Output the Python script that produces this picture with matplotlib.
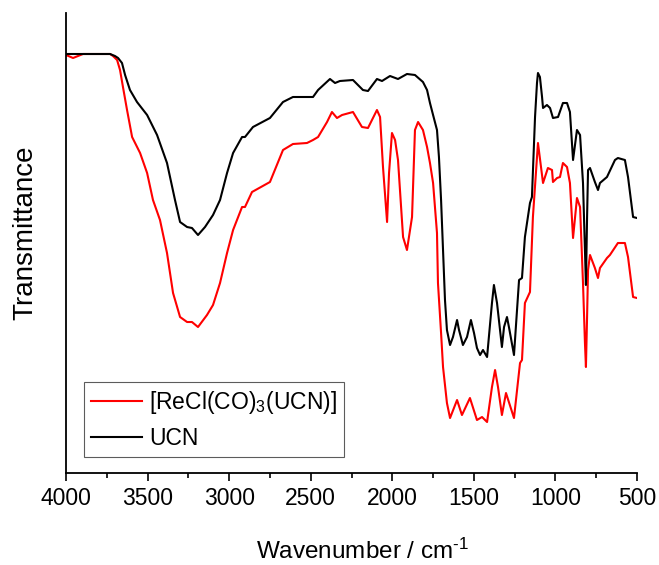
import matplotlib
matplotlib.use("Agg")
import matplotlib.pyplot as plt
from matplotlib.ticker import MultipleLocator

plt.rcParams["font.family"] = ["Liberation Sans", "DejaVu Sans"]
plt.rcParams["mathtext.fontset"] = "custom"
plt.rcParams["mathtext.rm"] = "Liberation Sans"
plt.rcParams["mathtext.it"] = "Liberation Sans"

# FTIR spectra, wavenumber (cm-1) vs transmittance (arbitrary units)
ucn_wn = [4000, 3730, 3700, 3681, 3657, 3638, 3608, 3565, 3503, 3442, 3381,
          3332, 3301, 3258, 3228, 3191, 3148, 3099, 3056, 3013, 2976, 2921,
          2903, 2854, 2750, 2670, 2609, 2486, 2455, 2382, 2351, 2321, 2241,
          2180, 2149, 2094, 2063, 2014, 1965, 1910, 1861, 1812, 1787, 1769,
          1750, 1726, 1714, 1701, 1689, 1677, 1665, 1646, 1628, 1603, 1591,
          1567, 1542, 1518, 1499, 1481, 1462, 1444, 1419, 1389, 1377, 1358,
          1328, 1315, 1297, 1285, 1254, 1223, 1205, 1187, 1156, 1144, 1125,
          1113, 1107, 1095, 1082, 1076, 1052, 1033, 1015, 984, 954, 929, 911,
          892, 868, 849, 831, 819, 813, 806, 800, 788, 758, 739, 727, 684,
          635, 617, 574, 555, 524, 500]
ucn_t = [419, 419, 417, 415, 410, 398, 383, 371, 358, 338, 310,
         273, 251, 246, 245, 238, 246, 258, 273, 300, 320, 336,
         336, 346, 355, 371, 376, 376, 383, 394, 390, 392, 393,
         383, 382, 394, 392, 397, 394, 399, 398, 391, 383, 370,
         358, 343, 316, 273, 223, 173, 143, 128, 136, 153, 143,
         128, 136, 153, 140, 125, 118, 123, 116, 170, 188, 170,
         126, 146, 156, 146, 118, 193, 195, 236, 270, 276, 356,
         390, 400, 396, 376, 365, 368, 365, 355, 356, 370, 370, 361,
         313, 343, 338, 290, 223, 188, 256, 303, 305, 291, 283, 290, 296,
         313, 315, 313, 296, 256, 255]

re_wn = [4000, 3957, 3896, 3730, 3712, 3687, 3669, 3651, 3626, 3595, 3546,
         3503, 3467, 3424, 3381, 3344, 3301, 3258, 3228, 3191, 3136, 3099,
         3056, 3013, 2976, 2921, 2903, 2860, 2750, 2670, 2609, 2523, 2486,
         2455, 2400, 2370, 2339, 2308, 2241, 2186, 2149, 2094, 2075, 2057,
         2032, 2020, 2002, 1983, 1965, 1934, 1910, 1879, 1861, 1842, 1812,
         1787, 1769, 1750, 1726, 1720, 1701, 1689, 1665, 1646, 1603, 1573,
         1524, 1481, 1450, 1419, 1389, 1370, 1352, 1328, 1303, 1254, 1217,
         1205, 1187, 1156, 1138, 1107, 1076, 1046, 1021, 1015, 990, 972, 954,
         929, 911, 892, 868, 849, 831, 819, 813, 806, 800, 788, 758, 739,
         727, 684, 666, 617, 574, 555, 524, 500]
re_t = [418, 415, 419, 419, 417, 413, 403, 386, 363, 336, 320,
        300, 273, 253, 220, 180, 156, 151, 151, 146, 158, 168,
        190, 220, 243, 266, 266, 281, 291, 323, 329, 330, 333,
        336, 351, 361, 355, 358, 361, 346, 345, 363, 356, 306,
        251, 300, 340, 333, 313, 236, 223, 256, 343, 351, 343,
        326, 310, 290, 240, 190, 140, 106, 70, 55, 73, 58,
        75, 53, 56, 51, 86, 103, 86, 58, 80, 55, 110,
        113, 170, 181, 256, 330, 290, 305, 303, 291, 295, 296, 310,
        306, 290, 235, 275, 266, 190, 130, 106, 156, 203, 218, 205, 195,
        205, 215, 218, 230, 230, 216, 176, 175]

fig = plt.figure(figsize=(6.59, 5.65), dpi=100)
ax = fig.add_axes([0.1002, 0.1628, 0.8664, 0.8142])

ax.plot(re_wn, re_t, color="#ff0000", lw=1.5, label=r"[ReCl(CO)$_3$(UCN)]")
ax.plot(ucn_wn, ucn_t, color="#000000", lw=1.5, label="UCN")

ax.set_xlim(4000, 500)
ax.set_ylim(0, 460)
ax.xaxis.set_major_locator(MultipleLocator(500))
ax.xaxis.set_minor_locator(MultipleLocator(250))
ax.tick_params(axis="x", which="major", direction="out", length=6, width=1.2,
               labelsize=16.5, pad=4)
ax.tick_params(axis="x", which="minor", direction="out", length=3.5, width=1.2)
ax.set_yticks([])
for side in ("top", "right"):
    ax.spines[side].set_visible(False)
for side in ("left", "bottom"):
    ax.spines[side].set_linewidth(1.3)

ax.set_xlabel(r"Wavenumber / cm$^{\text{-1}}$", fontsize=17.5)
ax.xaxis.set_label_coords(0.52, -0.142)
ax.set_ylabel("Transmittance", fontsize=20)
ax.yaxis.set_label_coords(-0.048, 0.522)

leg = ax.legend(loc="lower left", bbox_to_anchor=(0.0315, 0.0348),
                borderaxespad=0, fontsize=16.5, frameon=True, fancybox=False,
                handlelength=2.25, handletextpad=0.3, borderpad=0.3,
                labelspacing=0.5)
leg.get_frame().set_edgecolor("#333333")
leg.get_frame().set_linewidth(0.8)

fig.savefig("out.png", dpi=100)
